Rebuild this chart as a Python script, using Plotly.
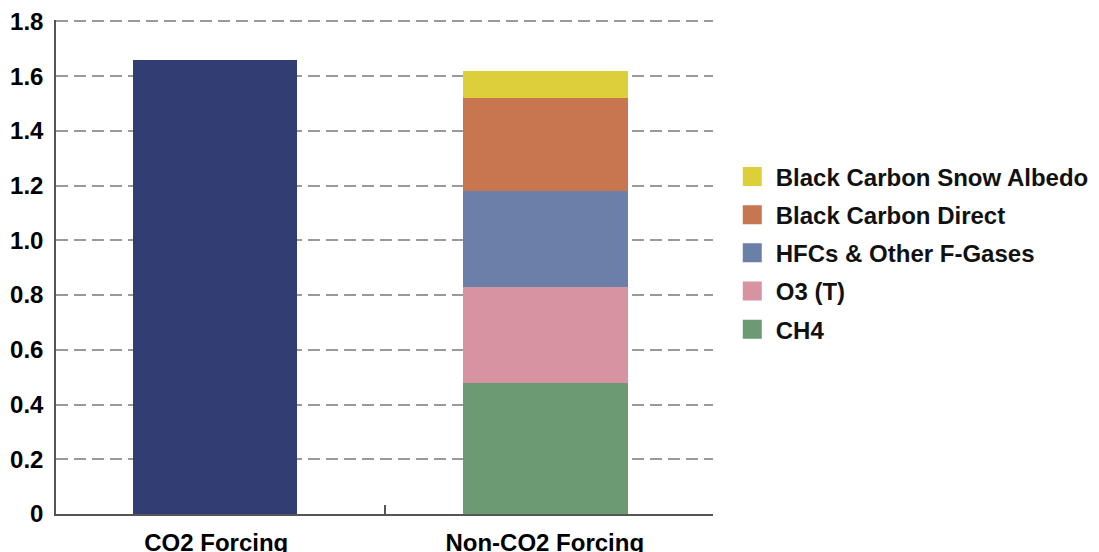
import plotly.graph_objects as go

categories = ["CO2 Forcing", "Non-CO2 Forcing"]
co2_value = [1.66, None]
series_names = ["CH4", "O3 (T)", "HFCs & Other F-Gases", "Black Carbon Direct", "Black Carbon Snow Albedo"]
series_values = [0.48, 0.35, 0.35, 0.34, 0.10]
series_colors = ["#6b9a73", "#d893a3", "#6a80a8", "#c7764f", "#dccf3a"]
y_ticks = [0, 0.2, 0.4, 0.6, 0.8, 1.0, 1.2, 1.4, 1.6, 1.8]
y_tick_labels = ["0", "0.2", "0.4", "0.6", "0.8", "1.0", "1.2", "1.4", "1.6", "1.8"]

font_family = "Liberation Sans, Arial, sans-serif"

fig = go.Figure()
fig.add_trace(go.Bar(x=categories, y=co2_value, width=0.5, offset=-0.265,
                     marker=dict(color="#323d73", line=dict(width=0)),
                     showlegend=False, name="CO2"))
n = len(series_names)
for i, (name, val, col) in enumerate(zip(series_names, series_values, series_colors)):
    fig.add_trace(go.Bar(x=[categories[1]], y=[val], name=name, legendgroup=f"g{i}",
                         width=0.5, offset=-0.26, showlegend=False,
                         marker=dict(color=col, line=dict(width=0))))
    # legend entry with a larger square swatch (top of stack listed first)
    fig.add_trace(go.Scatter(x=[None], y=[None], mode="markers", name=name, legendgroup=f"g{i}",
                             legendrank=100 * (n - i),
                             marker=dict(symbol="square", size=16, color=col,
                                         line=dict(color=col, width=3))))

fig.update_layout(
    barmode="stack",
    width=1091, height=544,
    margin=dict(l=48, r=386, t=12, b=38, autoexpand=False),
    plot_bgcolor="white", paper_bgcolor="white",
    font=dict(family=font_family, size=24, color="black", weight="bold"),
    legend=dict(traceorder="grouped", x=1.024, xanchor="left", y=0.728, yanchor="top",
                font=dict(size=24, weight="bold", color="#111"), tracegroupgap=4,
                itemwidth=37, bgcolor="rgba(0,0,0,0)"),
    showlegend=True,
)
fig.update_xaxes(
    showline=True, linecolor="#555", linewidth=1.5,
    ticks="inside", tickson="boundaries", ticklen=9, tickcolor="#555", tickwidth=1.5,
    showgrid=False, tickfont=dict(size=24, weight="bold"), automargin=False,
    ticklabelstandoff=6, ticklabelshift=-4, ticklabeloverflow="allow",
)
fig.update_yaxes(
    range=[0, 1.805], tickvals=y_ticks, ticktext=y_tick_labels,
    showline=True, linecolor="#555", linewidth=1.5,
    showgrid=True, gridcolor="#9a9a9a", gridwidth=1.5, griddash="12px,6px",
    zeroline=False, ticks="", ticklabelstandoff=6, ticklabeloverflow="allow",
    tickfont=dict(size=24, weight="bold"), automargin=False,
)

fig.write_html("out.html")
